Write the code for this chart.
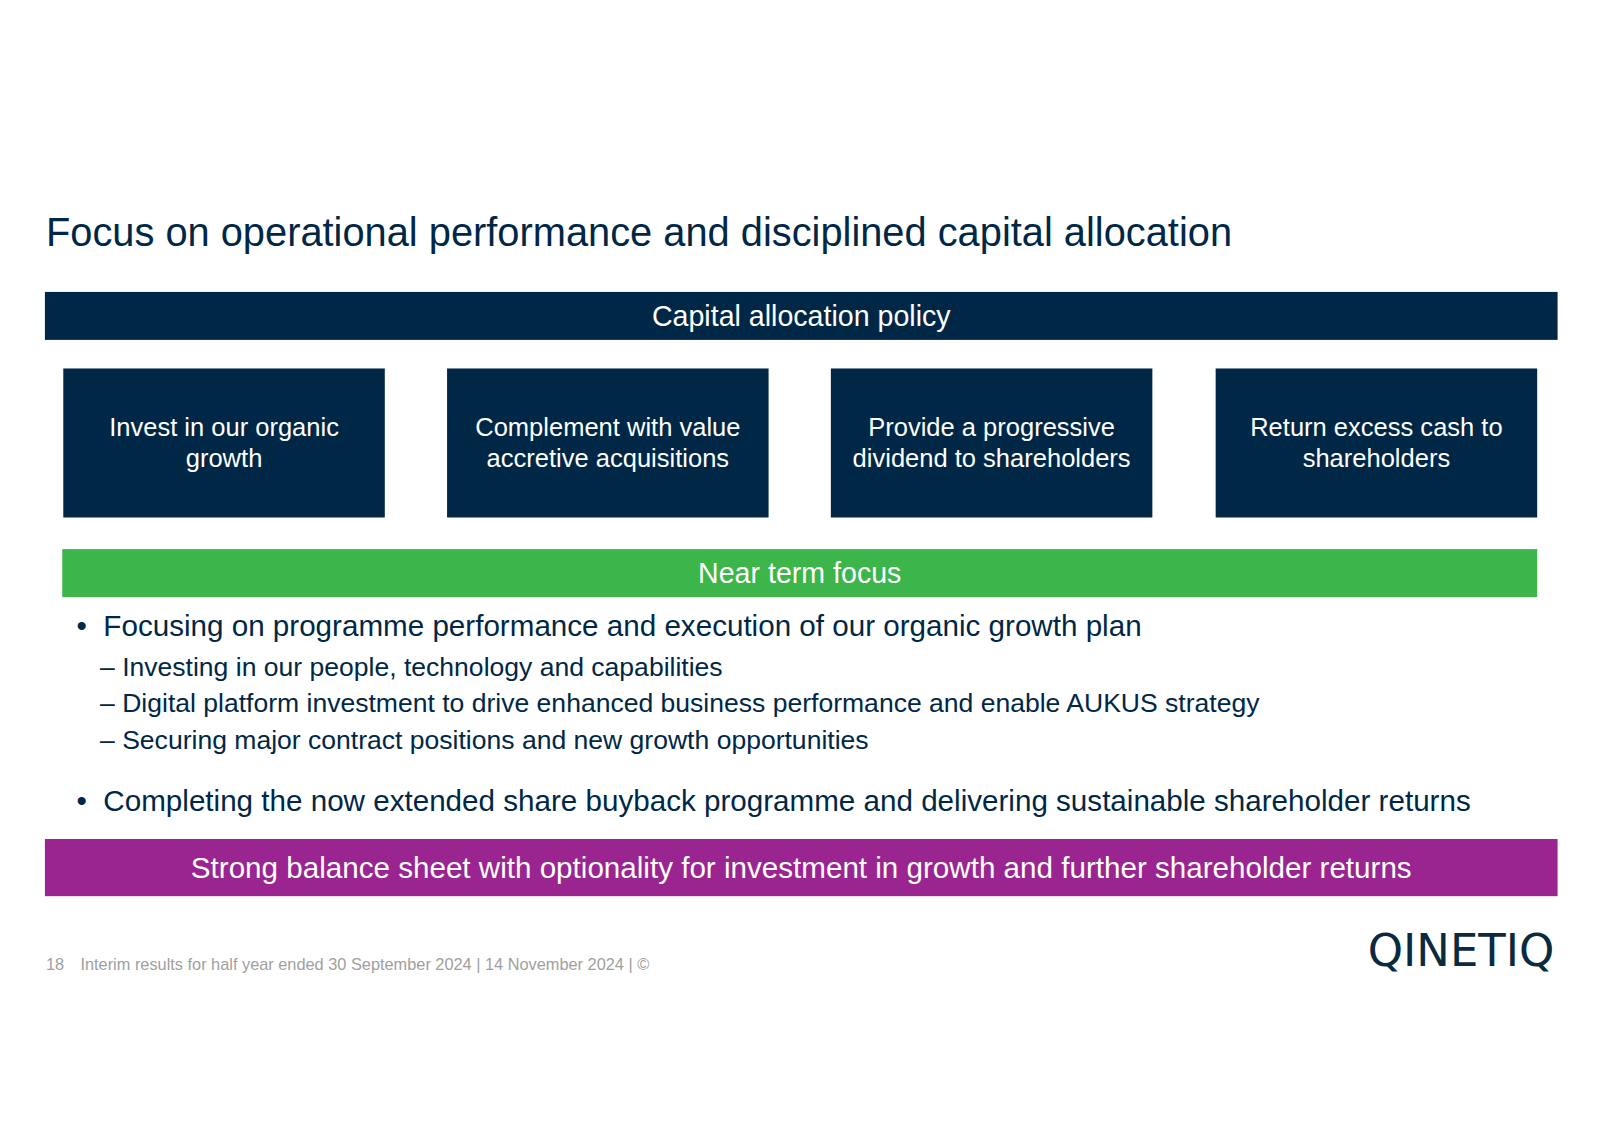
<!DOCTYPE html>
<html><head><meta charset="utf-8">
<script src="https://cdn.jsdelivr.net/npm/chart.js@4"></script>
<style>
body{margin:0;width:1600px;height:1131px;background:#fff;font-family:"Liberation Sans",Arial,sans-serif;position:relative;overflow:hidden}
#root{position:absolute;left:0;top:0;width:1560px;height:1103px;transform:scale(1.0207);transform-origin:0 0}
.a{position:absolute}
.bar{display:flex;align-items:center;justify-content:center;color:#fff}
.navy{background:#002846}
</style></head><body>
<div id="root"></div>
<script>
// slide text
const title = 'Focus on operational performance and disciplined capital allocation';
const policyHeader = 'Capital allocation policy';
const policyBoxes = ['Invest in our organic growth','Complement with value accretive acquisitions','Provide a progressive dividend to shareholders','Return excess cash to shareholders'];
const boxLefts = [62, 438, 814, 1191];
const focusHeader = 'Near term focus';
const bullet1 = 'Focusing on programme performance and execution of our organic growth plan';
const subBullets = ['Investing in our people, technology and capabilities','Digital platform investment to drive enhanced business performance and enable AUKUS strategy','Securing major contract positions and new growth opportunities'];
const bullet2 = 'Completing the now extended share buyback programme and delivering sustainable shareholder returns';
const footerBanner = 'Strong balance sheet with optionality for investment in growth and further shareholder returns';
const footer = '18\u2003Interim results for half year ended 30 September 2024 | 14 November 2024 | \u00a9';

const root = document.getElementById('root');
function add(html){ root.insertAdjacentHTML('beforeend', html); }

add(`<div class="a" style="left:45px;top:206px;font-size:39px;color:#002846">${title}</div>`);
add(`<div class="a bar navy" style="left:44px;top:286px;width:1482px;height:47px;font-size:28px">${policyHeader}</div>`);
policyBoxes.forEach((t,i)=>{
  add(`<div class="a bar navy" style="left:${boxLefts[i]}px;top:361px;width:315px;height:146px;font-size:25px;text-align:center;line-height:31px;padding:0 12px;box-sizing:border-box">${t}</div>`);
});
add(`<div class="a bar" style="left:61px;top:538px;width:1445px;height:47px;background:#3cb54a;font-size:28px">${focusHeader}</div>`);
add(`<div class="a" style="left:75px;top:597px;font-size:29px;color:#002846">\u2022&nbsp;&nbsp;${bullet1}</div>`);
subBullets.forEach((t,i)=>{
  add(`<div class="a" style="left:98px;top:${638+i*36}px;font-size:26px;color:#002846">\u2013 ${t}</div>`);
});
add(`<div class="a" style="left:75px;top:769px;font-size:29px;color:#002846">\u2022&nbsp;&nbsp;${bullet2}</div>`);
add(`<div class="a bar" style="left:44px;top:822px;width:1482px;height:56px;background:#9b2590;font-size:29px">${footerBanner}</div>`);
add(`<div class="a" style="left:45px;top:936px;font-size:16px;color:#a0a0a0">${footer}</div>`);
add(`<div class="a" style="left:1340px;top:905px;font-size:44px;color:#0a2a40;font-family:'DejaVu Sans',sans-serif">QINETIQ</div>`);
</script>
</body></html>
